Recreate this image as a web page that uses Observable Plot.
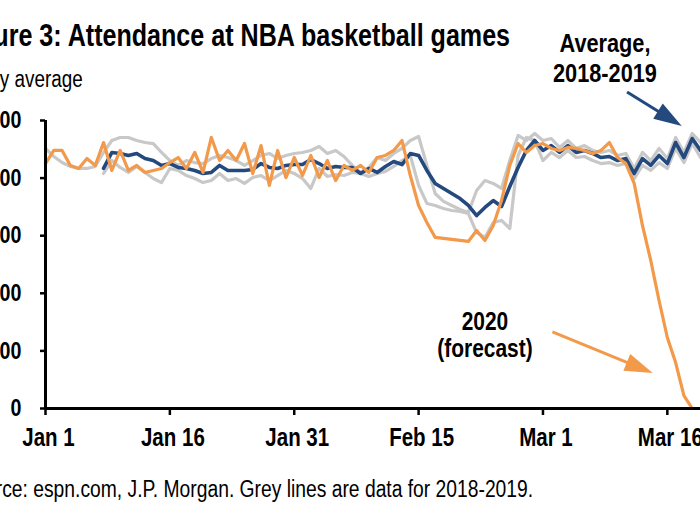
<!DOCTYPE html>
<html>
<head>
<meta charset="utf-8">
<script src="https://cdn.jsdelivr.net/npm/d3@7"></script>
<script src="https://cdn.jsdelivr.net/npm/@observablehq/plot@0.6"></script>
<style>
  body { margin: 0; background: #fff; }
  #wrap { position: relative; width: 700px; height: 525px; overflow: hidden; background: #fff;
          font-family: "Liberation Sans", Arial, sans-serif; color: #000; }
  #chart { position: absolute; left: 0; top: 0; }
  .t { position: absolute; white-space: nowrap; line-height: 1; transform: scaleX(0.82); }
  .r { transform-origin: right center; }
  .c { transform-origin: center center; }
  #title { right: 190px; top: 20px; font-size: 30.6px; font-weight: bold; }
  #subtitle { right: 617px; top: 67.5px; font-size: 23px; }
  #caption { right: 167px; top: 477.5px; font-size: 23.5px; }
  #avgLabel { left: 505px; width: 200px; top: 28px; text-align: center; font-size: 26.5px; font-weight: bold; line-height: 30px; }
  #fcLabel { left: 385px; width: 200px; top: 307.5px; text-align: center; font-size: 25.5px; font-weight: bold; line-height: 27px; }
  #chart svg g[aria-label^="x-axis"] line, #chart svg g[aria-label^="x-axis"] path,
  #chart svg g[aria-label^="y-axis"] line, #chart svg g[aria-label^="y-axis"] path { stroke-width: 2.5px; }
  #chart svg g[aria-label^="x-axis"] text { font-size: 25px; }
</style>
</head>
<body>
<div id="wrap">
  <div id="chart"></div>
  <div class="t r" id="title">Figure 3: Attendance at NBA basketball games</div>
  <div class="t r" id="subtitle">Daily average</div>
  <div class="t c" id="avgLabel">Average,<br>2018-2019</div>
  <div class="t c" id="fcLabel">2020<br>(forecast)</div>
  <div class="t r" id="caption">Source: espn.com, J.P. Morgan. Grey lines are data for 2018-2019.</div>
</div>
<script>
// Daily values from Jan 1 (day 0) to Mar 20 (day 79)
const attendance2020 = [
  17010,17920,17920,16880,16670,17360,16880,18470,16530,17920,
  16530,16880,16390,16530,16670,17080,17430,16670,17780,16390,
  18820,17220,17920,17220,18400,16320,18260,15490,17920,16040,
  17430,16180,17570,16040,17220,15830,16880,16530,16880,16390,
  17430,17570,17920,18610,16180,14100,12920,11880,11810,11740,
  11670,11600,12360,11670,12710,14440,16880,18400,17780,18260,
  18400,18060,17920,18130,18060,17920,17710,17920,18470,17430,
  17010,15630,12710,10280,7500,4930,3190,900,0,0
];
const average1819 = [
  null,null,null,null,null,null,null,16670,17780,17710,
  17570,17710,17360,17220,16880,17010,16740,16670,16530,16320,
  16390,16880,16530,16530,16530,16600,17010,16740,16670,16880,
  16940,16940,17290,17010,16670,16810,16740,16740,16320,16670,
  16390,16810,17150,16940,17710,17570,16530,15630,15280,14930,
  14580,14100,13400,13960,14440,14030,15420,16740,17920,18610,
  17920,18260,17780,18260,17780,17920,17710,17430,17500,17220,
  17360,16320,17360,16880,17570,17010,18470,17430,18750,17920
];
const seasonA = [
  18060,17500,17080,16810,16670,16670,16810,17780,18610,18820,
  18820,18610,18470,18400,17780,17220,16880,17220,17080,17010,
  17360,17570,17430,17220,16880,17220,17570,17710,17360,17570,
  17710,17780,17920,18190,17710,17920,17500,16880,16390,16740,
  17430,17220,17710,18060,18610,18890,16880,14930,14380,14100,
  13820,13610,15140,15830,15630,15280,17220,18960,18610,19100,
  18610,18750,18130,18610,18060,18260,17920,17780,17920,17570,
  17710,16670,17780,17220,18060,17360,18820,17780,19100,18470
];
const seasonB = [
  null,null,null,null,null,null,null,16320,17220,16740,
  16390,16810,16390,15970,15690,16670,16530,16180,15970,15690,
  15830,16320,15830,15970,15630,16040,16180,15830,16180,16530,
  16320,15970,15280,16670,16110,16250,16180,16390,16320,16110,
  16320,16460,16810,17220,17570,15490,14240,14100,13890,13750,
  13680,13540,12220,11880,12920,13060,12500,17570,18820,18610,
  17220,17780,17430,17920,17430,17500,17220,17010,17080,16880,
  17010,15970,16880,16530,17080,16670,18060,17080,18400,17430
];
const xTickDates = ["2020-01-01","2020-01-16","2020-01-31","2020-02-15","2020-03-01","2020-03-16"];
const yTickValues = [0, 4000, 8000, 12000, 16000, 20000];
const startDate = "2020-01-01";
const endDate = "2020-03-20";
// annotation arrows: [day offset, value] tail -> tip
const arrowNotes = [
  {fromDay: 70.2, fromValue: 21950, toDay: 76.8, toValue: 19580, color: "#23497f"},
  {fromDay: 61.2, fromValue: 5280, toDay: 73.3, toValue: 2430, color: "#f2994a"}
];

const NAVY = "#23497f", ORANGE = "#f2994a", GREY = "#c8c8c8";
const start = new Date(startDate);
const dayToDate = (d) => new Date(start.getTime() + d * 864e5);
const rows = (vals) => vals.map((v, i) => ({date: dayToDate(i), value: v})).filter(d => d.value != null);

function arrowsMark(index, scales) {
  const g = d3.create("svg:g");
  for (const a of arrowNotes) {
    const x1 = scales.x(dayToDate(a.fromDay)), y1 = scales.y(a.fromValue);
    const x2 = scales.x(dayToDate(a.toDay)), y2 = scales.y(a.toValue);
    const len = Math.hypot(x2 - x1, y2 - y1), ux = (x2 - x1) / len, uy = (y2 - y1) / len;
    const L = 28, W = 9;
    const bx = x2 - ux * L, by = y2 - uy * L;
    g.append("line").attr("x1", x1).attr("y1", y1).attr("x2", bx + ux * 2).attr("y2", by + uy * 2)
      .attr("stroke", a.color).attr("stroke-width", 3);
    g.append("path")
      .attr("d", `M${x2},${y2}L${bx - uy * W},${by + ux * W}L${bx + uy * W},${by - ux * W}Z`)
      .attr("fill", a.color);
  }
  return g.node();
}

const chart = Plot.plot({
  width: 700,
  height: 525,
  marginTop: 120,
  marginBottom: 117,
  marginLeft: 45,
  marginRight: 0,
  style: {fontFamily: "'Liberation Sans', Arial, sans-serif", fontSize: "24px", fontWeight: "bold",
          overflow: "visible", background: "transparent", color: "#000"},
  x: {type: "utc", domain: [new Date(startDate), new Date(endDate)], ticks: xTickDates.map(d => new Date(d)),
      tickFormat: d3.utcFormat("%b %-d"), tickSize: 7, tickPadding: 13, label: null},
  y: {domain: [0, 20000], ticks: yTickValues, tickFormat: d3.format(","), tickSize: 5, tickPadding: 19, label: null},
  marks: [
    Plot.line(rows(seasonA), {x: "date", y: "value", stroke: GREY, strokeWidth: 3.2}),
    Plot.line(rows(seasonB), {x: "date", y: "value", stroke: GREY, strokeWidth: 3.2}),
    Plot.line(rows(average1819), {x: "date", y: "value", stroke: NAVY, strokeWidth: 3.6}),
    Plot.line(rows(attendance2020), {x: "date", y: "value", stroke: ORANGE, strokeWidth: 3.2}),
    Plot.ruleY([0], {stroke: "#000", strokeWidth: 3}),
    Plot.ruleX([new Date(startDate)], {y1: 0, y2: 20000, stroke: "#000", strokeWidth: 3}),
    arrowsMark
  ]
});
document.getElementById("chart").appendChild(chart);

// condense the axis tick labels (narrow typeface look), keeping their anchors in place
function condense(sel, anchor, shift) {
  chart.querySelectorAll(sel).forEach(t => {
    const b = t.getBBox();
    const a = anchor === "end" ? b.x + b.width : b.x + b.width / 2;
    const prev = t.getAttribute("transform") || "";
    t.setAttribute("transform", `${prev} translate(${a + shift},0) scale(0.82,1) translate(${-a},0)`);
  });
}
condense('g[aria-label^="x-axis"] text', "middle", 3);
condense('g[aria-label^="y-axis"] text', "end", 0);
</script>
</body>
</html>
